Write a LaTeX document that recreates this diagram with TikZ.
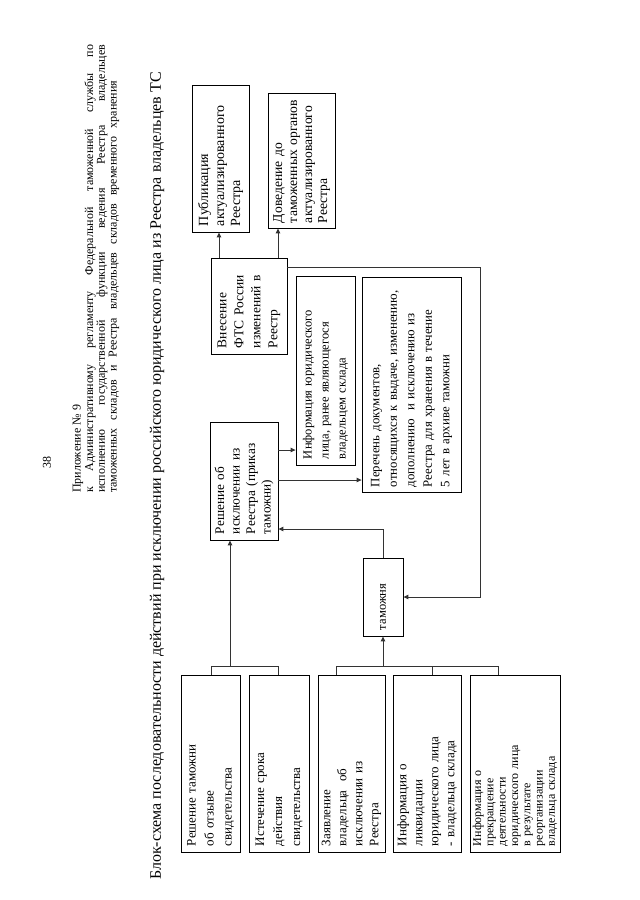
\documentclass[tikz,border=0pt]{standalone}
\usepackage{fontspec}
\setmainfont{Liberation Serif}
\usetikzlibrary{arrows.meta}
\tikzset{
  bx/.style={draw=black, line width=0.8pt, rotate=90, align=left, inner xsep=6pt, inner ysep=2pt, font=\fontsize{13}{17}\selectfont},
  fs/.style 2 args={font=\fontsize{#1}{#2}\selectfont},
  conn/.style={draw=black!80, line width=1pt},
  arr/.style={conn, -{Triangle[length=5pt,width=4.5pt]}},
  hdr/.style={rotate=90, anchor=west, inner sep=0pt, font=\fontsize{12}{12}\selectfont},
  ttl/.style={rotate=90, anchor=west, inner sep=0pt, font=\fontsize{16}{18}\selectfont},
}
\begin{document}
\begin{tikzpicture}[x=1pt,y=-1pt]
\fill[white] (0,0) rectangle (640,900);
\useasboundingbox (0,0) rectangle (640,900);

% header
\node[rotate=90, inner sep=0pt, font=\fontsize{12}{12}\selectfont] (pg) at (47,462) {38};
\node[hdr] (h1) at (78,493) {Приложение № 9};
\node[hdr] (h2) at (90,493) {\makebox[448pt][s]{к Административному регламенту Федеральной таможенной службы по}};
\node[hdr] (h3) at (102,493) {\makebox[448pt][s]{исполнению государственной функции ведения Реестра владельцев}};
\node[hdr] (h4) at (114,493) {\makebox[412pt][s]{таможенных складов и Реестра владельцев складов временного хранения}};
\node[ttl] (title) at (157,880) {Блок-схема последовательности действий при исключении российского юридического лица из Реестра владельцев ТС};

% boxes
\node[bx, fs={14}{16}, minimum width=147pt, minimum height=57pt, text width=135pt] (pub) at (220.5,158.5) {Публикация\\актуализированного\\Реестра};
\node[bx, fs={13.6}{15}, inner xsep=5pt, minimum width=135pt, minimum height=67pt, text width=125pt] (dov) at (301.5,160.5) {Доведение до\\таможенных органов\\актуализированного\\Реестра};
\node[bx, fs={13.5}{17}, minimum width=96pt, minimum height=76pt, text width=84pt] (vnes) at (249,306) {Внесение\\ФТС России\\изменений в\\Реестр};
\node[bx, fs={12.5}{17}, minimum width=189pt, minimum height=59pt, text width=177pt] (info) at (325.5,370.5) {Информация юридического\\лица, ранее являющегося\\владельцем склада};
\node[bx, fs={12.8}{17.5}, inner xsep=5pt, minimum width=215pt, minimum height=99pt, text width=205pt] (per) at (411.5,384.5) {Перечень документов,\\относящихся к выдаче, изменению,\\дополнению\ \ и исключению из\\Реестра для хранения в течение\\5 лет в архиве таможни};
\node[bx, fs={13.2}{15.5}, minimum width=118pt, minimum height=68pt, text width=106pt] (resh) at (244,481) {Решение об\\исключении из\\Реестра (приказ\\таможни)};
\node[bx, fs={12.5}{15}, minimum width=78pt, minimum height=40pt, text width=66pt] (tam) at (383,597) {таможня};

\node[bx, fs={13}{18}, minimum width=177pt, minimum height=59pt, text width=165pt] (a) at (210.5,763.5) {Решение таможни\\об отзыве\\свидетельства};
\node[bx, fs={13}{18}, minimum width=177pt, minimum height=60pt, text width=165pt] (b) at (279,763.5) {Истечение срока\\действия\\свидетельства};
\node[bx, fs={13}{16}, minimum width=177pt, minimum height=67pt, text width=165pt] (c) at (351.5,763.5) {Заявление\\владельца\ \ об\\исключении из\\Реестра};
\node[bx, fs={13}{16}, minimum width=177pt, minimum height=68pt, text width=165pt] (d) at (427,763.5) {Информация о\\ликвидации\\юридического лица\\- владельца склада};
\node[bx, fs={12}{12.3}, minimum width=177pt, minimum height=90pt, text width=165pt] (e) at (515,763.5) {Информация о\\прекращение\\деятельности\\юридического лица\\в результате\\реорганизации\\владельца склада};

% connectors
\draw[arr] (219,0 |- vnes.east) -- (219,0 |- pub.west);
\draw[arr] (278,0 |- vnes.east) -- (278,0 |- dov.west);
\draw[arr] (vnes.south |- 0,267) -- (480,267) -- (480,597) -- (tam.south |- 0,597);
\draw[arr] (resh.south |- 0,450) -- (info.north |- 0,450);
\draw[arr] (resh.south |- 0,480) -- (per.north |- 0,480);
\draw[arr] (383,0 |- tam.east) -- (383,529) -- (resh.south |- 0,529);
\draw[conn] (211,0 |- a.east) -- (211,666) -- (278,666) -- (278,0 |- b.east);
\draw[arr] (230,666) -- (230,0 |- resh.west);
\draw[conn] (336,0 |- c.east) -- (336,666) -- (498,666) -- (498,0 |- e.east);
\draw[conn] (432,666) -- (432,0 |- d.east);
\draw[arr] (383,666) -- (383,0 |- tam.west);
\end{tikzpicture}
\end{document}
